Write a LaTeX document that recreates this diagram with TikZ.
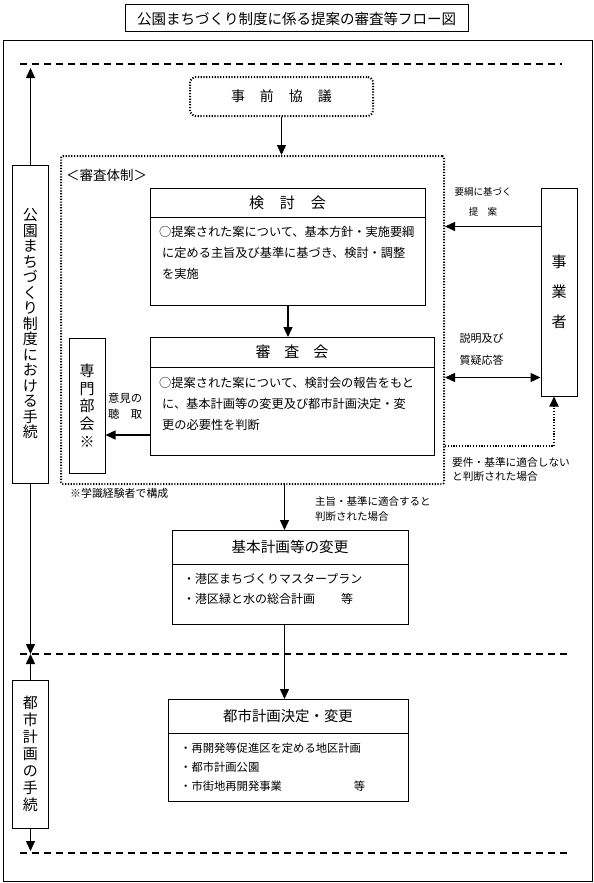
\documentclass[tikz,border=0pt]{standalone}
\usepackage{fontspec}
\setmainfont{Noto Sans CJK JP}
\usetikzlibrary{arrows.meta,calc}
\newcommand\myfs[2]{\fontsize{#1}{#2}\selectfont}
\begin{document}
\begin{tikzpicture}[x=1pt,y=-1pt,
  box/.style={draw, line width=1pt, inner sep=0pt},
  arr/.style={line width=1.4pt, -{Triangle[length=10pt,width=9pt]}},
  darr/.style={line width=1.4pt, {Triangle[length=10pt,width=9pt]}-{Triangle[length=10pt,width=9pt]}},
  dashln/.style={line width=2.5pt, dash pattern=on 7pt off 5pt},
  dotln/.style={line width=2pt, dash pattern=on 1.2pt off 1.6pt},
  lbl/.style={inner sep=0pt, align=left, anchor=north west}]
\useasboundingbox (0,0) rectangle (594,883);
% title and frame
\node[box, minimum width=343, minimum height=27, font=\myfs{14.5}{16}] (title) at (296.5,18.5) {公園まちづくり制度に係る提案の審査等フロー図};
\draw[line width=1pt] (3,41) rectangle (592,881);
% dashed lines
\coordinate (d1a) at (20,64); \coordinate (d1b) at (562,64);
\coordinate (d2a) at (20,654); \coordinate (d2b) at (568,654);
\coordinate (d3a) at (20,853); \coordinate (d3b) at (570,853);
\draw[dashln] (d1a) -- (d1b);
\draw[dashln] (d2a) -- (d2b);
\draw[dashln] (d3a) -- (d3b);
% left procedure boxes
\node[box, minimum width=36, minimum height=318, align=center, font=\myfs{15}{15.5}] (proc1) at (30.5,324) {公\\園\\ま\\ち\\づ\\く\\り\\制\\度\\に\\お\\け\\る\\手\\続};
\node[box, minimum width=36, minimum height=148, align=center, font=\myfs{15}{17}] (proc2) at (30.5,754) {都\\市\\計\\画\\の\\手\\続};
\coordinate (top1) at (30.5,68);
\coordinate (mid1) at (30.5,654);
\coordinate (bot1) at (30.5,851);
\draw[arr] (proc1.north) -- (top1);
\draw[arr] (proc1.south) -- (mid1);
\draw[arr] (proc2.north) -- (mid1);
\draw[arr] (proc2.south) -- (bot1);
% prior consultation
\node[draw, dotln, rounded corners=6pt, minimum width=183, minimum height=39, font=\myfs{14}{16}] (jizen) at (281.5,96.5) {事\hspace{15pt}前\hspace{15pt}協\hspace{15pt}議};
% review system dotted frame
\node[draw, dotln, rounded corners=2pt, minimum width=383, minimum height=328, anchor=north west] (shinsa) at (60,155) {};
\draw[arr] (jizen.south) -- (jizen.south |- shinsa.north);
\node[inner sep=0pt, anchor=west, font=\myfs{13.5}{15}] (taisei) at (66,175) {＜審査体制＞};
% kentoukai
\node[box, minimum width=275, minimum height=117, anchor=north west] (kentou) at (150,188) {};
\draw[line width=1pt] (150,217) -- (425,217);
\node[font=\myfs{15}{17}] (kentouh) at (287.5,203) {検\hspace{16pt}討\hspace{16pt}会};
\node[lbl, font=\myfs{12.2}{21}] (kentoub) at (159,226) {○提案された案について、基本方針・実施要綱\\\hspace{3pt}に定める主旨及び基準に基づき、検討・調整\\\hspace{3pt}を実施};
% shinsakai
\node[box, minimum width=284, minimum height=118, anchor=north west] (shinsakai) at (150,337) {};
\draw[line width=1pt] (150,367) -- (434,367);
\node[font=\myfs{15}{17}] (shinsakaih) at (292,352) {審\hspace{14pt}査\hspace{14pt}会};
\node[lbl, font=\myfs{12.2}{21}] (shinsakaib) at (159,377) {○提案された案について、検討会の報告をもと\\\hspace{3pt}に、基本計画等の変更及び都市計画決定・変\\\hspace{3pt}更の必要性を判断};
\draw[arr] (kentou.south) -- (kentou.south |- shinsakai.north);
% senmon bukai
\node[box, minimum width=36, minimum height=135, align=center, font=\myfs{15}{17.75}] (senmon) at (87,405.5) {専\\門\\部\\会\\※};
\draw[arr] ($(shinsakai.south west)+(0,-21)$) coordinate (ia) -- (ia -| senmon.east);
\node[lbl, font=\myfs{11.3}{16}] (iken) at (108,393) {意見の\\聴\hspace{11.3pt}取};
\node[inner sep=0pt, anchor=west, font=\myfs{10.9}{12}] (gakushiki) at (70,493) {※学識経験者で構成};
% jigyousha
\node[box, minimum width=36, minimum height=208, align=center, font=\myfs{15}{30}] (jigyou) at (559,292) {事\\業\\者};
\draw[arr] ($(jigyou.north west)+(0,39)$) coordinate (ya) -- (ya -| shinsa.east);
\node[inner sep=0pt, align=center, font=\myfs{9.5}{20}] (youkou) at (483,202) {要綱に基づく\\提\hspace{9.5pt}案};
\draw[darr] ($(jigyou.south west)+(0,-19)$) coordinate (sa) -- (sa -| shinsa.east);
\node[inner sep=0pt, align=left, font=\myfs{11}{22}] (setsumei) at (481.5,349) {説明及び\\質疑応答};
\draw[dotln, -{Triangle[length=10pt,width=9pt]}] ($(shinsa.south east)+(0,-39)$) -| ($(jigyou.south)+(-5,0)$);
\node[lbl, font=\myfs{10.7}{14}] (futekigou) at (452,457.7) {要件・基準に適合しない\\と判断された場合};
% kihon keikaku
\node[box, minimum width=236, minimum height=94, anchor=north west] (kihon) at (172,530) {};
\draw[line width=1pt] (172,564) -- (408,564);
\node[font=\myfs{14.6}{16}] (kihonh) at (290,547) {基本計画等の変更};
\node[lbl, font=\myfs{12}{20}] (kihonb) at (183,573) {・港区まちづくりマスタープラン\\・港区緑と水の総合計画\hspace{26pt}等};
\draw[arr] ($(kihon.north)+(-6,0)$) coordinate (k1) ++(0,-47) -- (k1);
\node[lbl, font=\myfs{10.5}{15}] (tekigou) at (315,496.7) {主旨・基準に適合すると\\判断された場合};
% toshi keikaku
\node[box, minimum width=240, minimum height=102, anchor=north west] (toshi) at (168,699) {};
\draw[line width=1pt] (168,733) -- (408,733);
\node[font=\myfs{14.4}{16}] (toshih) at (288,716) {都市計画決定・変更};
\node[lbl, font=\myfs{11.3}{19}] (toshib) at (180,742.3) {・再開発等促進区を定める地区計画\\・都市計画公園\\・市街地再開発事業\hspace{72pt}等};
\draw[arr] ($(kihon.south)+(-6,0)$) coordinate (k2) -- (k2 |- toshi.north);
\end{tikzpicture}
\end{document}
